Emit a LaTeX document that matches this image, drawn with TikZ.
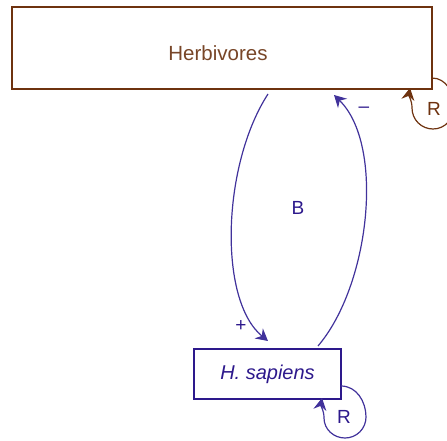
\documentclass[tikz,border=0pt]{standalone}
\usepackage{fontspec}
\setmainfont{Liberation Sans}
\usetikzlibrary{arrows.meta}
\definecolor{brn}{RGB}{110,50,15}
\definecolor{brntxt}{RGB}{120,70,40}
\definecolor{blu}{RGB}{45,25,140}
\definecolor{blul}{RGB}{65,50,155}
\tikzset{
  herbbox/.style={draw=brn,line width=1.6pt,fill=white,minimum width=420pt,minimum height=82pt,inner sep=0pt},
  herbtext/.style={text=brntxt,font=\fontsize{20.5}{23}\selectfont,inner sep=0pt},
  hsbox/.style={draw=blu,line width=1.5pt,fill=white,minimum width=147pt,minimum height=50pt,inner sep=0pt,text=blu,font=\fontsize{20}{23}\selectfont\itshape},
  tip/.style={-{Stealth[length=12pt,width=13pt,inset=4pt]}},
  link/.style={draw=blul,line width=1.2pt,tip},
  loopb/.style={draw=brn,line width=1.2pt,tip},
  lbl/.style={font=\fontsize{19}{21}\selectfont,inner sep=0pt},
}
\begin{document}
\begin{tikzpicture}[x=1pt,y=1pt]
\useasboundingbox (0,0) rectangle (447,440);
\node[herbbox] (herb) at (222,392) {};
\node[herbtext] (herblabel) at (218,387) {Herbivores};
\node[hsbox] (hs) at (267.5,66) {H. sapiens};
% links
\coordinate (l0) at (268,346);
\coordinate (l1) at (268,99);
\draw[link] (l0) .. controls (222,275) and (218,140) .. (l1);
\coordinate (r0) at (318,94);
\coordinate (r1) at (334,345);
\draw[link] (r0) .. controls (370,155) and (385,295) .. (r1);
\node[lbl,text=blu] (plus) at (241,114) {+};
\node[lbl,text=blu] (minus) at (364,330) {\textendash};
\node[lbl,text=blu] (B) at (298,232) {B};
% herbivores self loop
\coordinate (h0) at (432,362);
\coordinate (h1) at (454,333);
\coordinate (h2) at (433,311);
\coordinate (h3) at (412,332);
\coordinate (h4) at (410,352);
\draw[loopb] (h0) to[out=0,in=90] (h1) to[out=-90,in=0] (h2) to[out=180,in=-90] (h3) to[out=90,in=-100] (h4);
\node[lbl,text=brn] (rh) at (434,331) {R};
% hsapiens self loop
\coordinate (s0) at (341,54);
\coordinate (s1) at (366,23);
\coordinate (s2) at (345,2);
\coordinate (s3) at (324,22);
\coordinate (s4) at (322,42);
\draw[link] (s0) to[out=0,in=90] (s1) to[out=-90,in=0] (s2) to[out=180,in=-90] (s3) to[out=90,in=-100] (s4);
\node[lbl,text=blu] (rs) at (344,23) {R};
\end{tikzpicture}
\end{document}
